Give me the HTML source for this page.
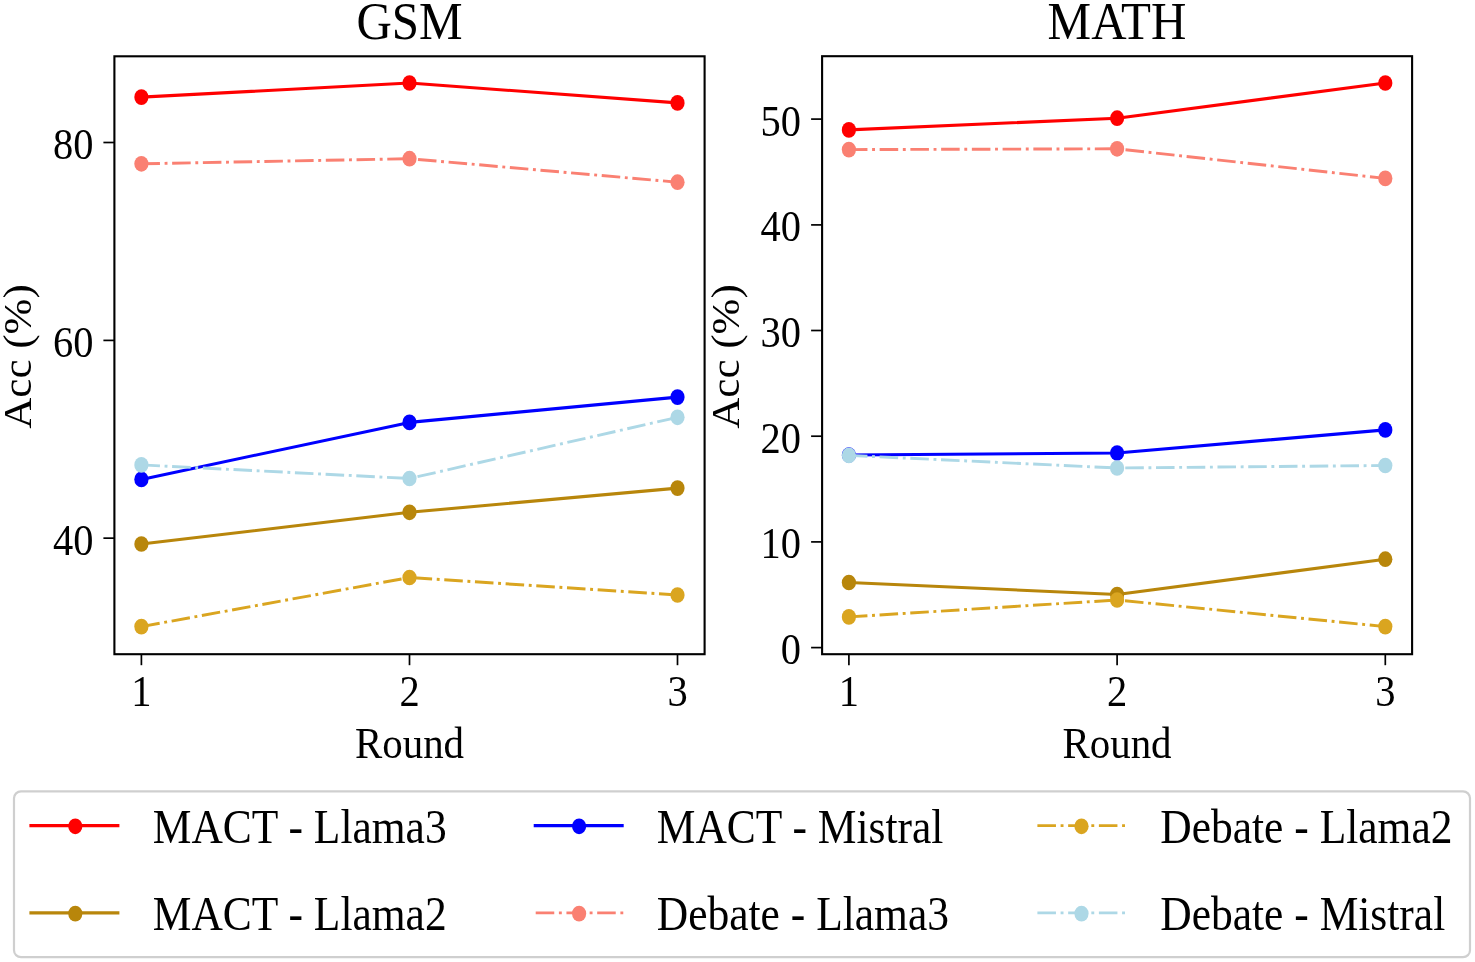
<!DOCTYPE html>
<html><head><meta charset="utf-8"><style>
html,body{margin:0;padding:0;background:#fff;width:1475px;height:962px;overflow:hidden}
svg{display:block}
#w{will-change:transform;width:1475px;height:962px}
text{font-family:"Liberation Serif",serif;fill:#000}
</style></head><body><div id="w">
<svg width="1475" height="962" viewBox="0 0 1475 962">
<rect x="114.4" y="56.3" width="590.2" height="597.9000000000001" fill="none" stroke="#000" stroke-width="2.1"/>
<line x1="141.4" y1="654.2" x2="141.4" y2="665.2" stroke="#000" stroke-width="1.7"/>
<text transform="translate(141.4,706.2) scale(1,1.11)" font-size="40.5" text-anchor="middle" >1</text>
<line x1="409.5" y1="654.2" x2="409.5" y2="665.2" stroke="#000" stroke-width="1.7"/>
<text transform="translate(409.5,706.2) scale(1,1.11)" font-size="40.5" text-anchor="middle" >2</text>
<line x1="677.5" y1="654.2" x2="677.5" y2="665.2" stroke="#000" stroke-width="1.7"/>
<text transform="translate(677.5,706.2) scale(1,1.11)" font-size="40.5" text-anchor="middle" >3</text>
<line x1="103.4" y1="538.15" x2="114.4" y2="538.15" stroke="#000" stroke-width="1.7"/>
<text transform="translate(93.4,554.65) scale(1,1.11)" font-size="40.5" text-anchor="end" >40</text>
<line x1="103.4" y1="340.4" x2="114.4" y2="340.4" stroke="#000" stroke-width="1.7"/>
<text transform="translate(93.4,356.9) scale(1,1.11)" font-size="40.5" text-anchor="end" >60</text>
<line x1="103.4" y1="142.5" x2="114.4" y2="142.5" stroke="#000" stroke-width="1.7"/>
<text transform="translate(93.4,159.0) scale(1,1.11)" font-size="40.5" text-anchor="end" >80</text>
<text transform="translate(409.5,38.5) scale(1,1.09)" font-size="49" text-anchor="middle" >GSM</text>
<text transform="translate(409.5,758) scale(1,1.09)" font-size="40.9" text-anchor="middle" >Round</text>
<rect x="822.1" y="56.2" width="589.9999999999999" height="598.0" fill="none" stroke="#000" stroke-width="2.1"/>
<line x1="848.9" y1="654.2" x2="848.9" y2="665.2" stroke="#000" stroke-width="1.7"/>
<text transform="translate(848.9,706.2) scale(1,1.11)" font-size="40.5" text-anchor="middle" >1</text>
<line x1="1117.1" y1="654.2" x2="1117.1" y2="665.2" stroke="#000" stroke-width="1.7"/>
<text transform="translate(1117.1,706.2) scale(1,1.11)" font-size="40.5" text-anchor="middle" >2</text>
<line x1="1385.3" y1="654.2" x2="1385.3" y2="665.2" stroke="#000" stroke-width="1.7"/>
<text transform="translate(1385.3,706.2) scale(1,1.11)" font-size="40.5" text-anchor="middle" >3</text>
<line x1="811.1" y1="647.6" x2="822.1" y2="647.6" stroke="#000" stroke-width="1.7"/>
<text transform="translate(801.1,664.1) scale(1,1.11)" font-size="40.5" text-anchor="end" >0</text>
<line x1="811.1" y1="541.9" x2="822.1" y2="541.9" stroke="#000" stroke-width="1.7"/>
<text transform="translate(801.1,558.4) scale(1,1.11)" font-size="40.5" text-anchor="end" >10</text>
<line x1="811.1" y1="436.2" x2="822.1" y2="436.2" stroke="#000" stroke-width="1.7"/>
<text transform="translate(801.1,452.7) scale(1,1.11)" font-size="40.5" text-anchor="end" >20</text>
<line x1="811.1" y1="330.5" x2="822.1" y2="330.5" stroke="#000" stroke-width="1.7"/>
<text transform="translate(801.1,347.0) scale(1,1.11)" font-size="40.5" text-anchor="end" >30</text>
<line x1="811.1" y1="224.9" x2="822.1" y2="224.9" stroke="#000" stroke-width="1.7"/>
<text transform="translate(801.1,241.4) scale(1,1.11)" font-size="40.5" text-anchor="end" >40</text>
<line x1="811.1" y1="119.1" x2="822.1" y2="119.1" stroke="#000" stroke-width="1.7"/>
<text transform="translate(801.1,135.6) scale(1,1.11)" font-size="40.5" text-anchor="end" >50</text>
<text transform="translate(1117,38.5) scale(1,1.09)" font-size="49" text-anchor="middle" >MATH</text>
<text transform="translate(1117,758) scale(1,1.09)" font-size="40.9" text-anchor="middle" >Round</text>
<text transform="translate(31.0,356.5) rotate(-90) scale(1.075,1)" font-size="40" text-anchor="middle">Acc (%)</text>
<text transform="translate(739.0,356.5) rotate(-90) scale(1.075,1)" font-size="40" text-anchor="middle">Acc (%)</text>
<polyline points="141.4,97.1 409.5,83 677.5,102.9" fill="none" stroke="#ff0000" stroke-width="3.1" stroke-linejoin="round" stroke-linecap="butt"/>
<ellipse cx="141.4" cy="97.1" rx="7.1" ry="7.85" fill="#ff0000"/>
<ellipse cx="409.5" cy="83" rx="7.1" ry="7.85" fill="#ff0000"/>
<ellipse cx="677.5" cy="102.9" rx="7.1" ry="7.85" fill="#ff0000"/>
<polyline points="141.4,544 409.5,512.3 677.5,488.1" fill="none" stroke="#b8860b" stroke-width="3.1" stroke-linejoin="round" stroke-linecap="butt"/>
<ellipse cx="141.4" cy="544" rx="7.1" ry="7.85" fill="#b8860b"/>
<ellipse cx="409.5" cy="512.3" rx="7.1" ry="7.85" fill="#b8860b"/>
<ellipse cx="677.5" cy="488.1" rx="7.1" ry="7.85" fill="#b8860b"/>
<polyline points="141.4,479.4 409.5,422.4 677.5,397.1" fill="none" stroke="#0000ff" stroke-width="3.1" stroke-linejoin="round" stroke-linecap="butt"/>
<ellipse cx="141.4" cy="479.4" rx="7.1" ry="7.85" fill="#0000ff"/>
<ellipse cx="409.5" cy="422.4" rx="7.1" ry="7.85" fill="#0000ff"/>
<ellipse cx="677.5" cy="397.1" rx="7.1" ry="7.85" fill="#0000ff"/>
<polyline points="141.4,163.8 409.5,158.7 677.5,182.2" fill="none" stroke="#fa8072" stroke-width="2.9" stroke-dasharray="18.56 4.64 2.90 4.64" stroke-linejoin="round" stroke-linecap="butt"/>
<ellipse cx="141.4" cy="163.8" rx="7.1" ry="7.85" fill="#fa8072"/>
<ellipse cx="409.5" cy="158.7" rx="7.1" ry="7.85" fill="#fa8072"/>
<ellipse cx="677.5" cy="182.2" rx="7.1" ry="7.85" fill="#fa8072"/>
<polyline points="141.4,626.6 409.5,577.5 677.5,595.0" fill="none" stroke="#daa520" stroke-width="2.9" stroke-dasharray="18.56 4.64 2.90 4.64" stroke-linejoin="round" stroke-linecap="butt"/>
<ellipse cx="141.4" cy="626.6" rx="7.1" ry="7.85" fill="#daa520"/>
<ellipse cx="409.5" cy="577.5" rx="7.1" ry="7.85" fill="#daa520"/>
<ellipse cx="677.5" cy="595.0" rx="7.1" ry="7.85" fill="#daa520"/>
<polyline points="141.4,464.9 409.5,478.5 677.5,417.3" fill="none" stroke="#add8e6" stroke-width="2.9" stroke-dasharray="18.56 4.64 2.90 4.64" stroke-linejoin="round" stroke-linecap="butt"/>
<ellipse cx="141.4" cy="464.9" rx="7.1" ry="7.85" fill="#add8e6"/>
<ellipse cx="409.5" cy="478.5" rx="7.1" ry="7.85" fill="#add8e6"/>
<ellipse cx="677.5" cy="417.3" rx="7.1" ry="7.85" fill="#add8e6"/>
<polyline points="848.9,129.9 1117.1,118.2 1385.3,83" fill="none" stroke="#ff0000" stroke-width="3.1" stroke-linejoin="round" stroke-linecap="butt"/>
<ellipse cx="848.9" cy="129.9" rx="7.1" ry="7.85" fill="#ff0000"/>
<ellipse cx="1117.1" cy="118.2" rx="7.1" ry="7.85" fill="#ff0000"/>
<ellipse cx="1385.3" cy="83" rx="7.1" ry="7.85" fill="#ff0000"/>
<polyline points="848.9,582.5 1117.1,594.5 1385.3,559.2" fill="none" stroke="#b8860b" stroke-width="3.1" stroke-linejoin="round" stroke-linecap="butt"/>
<ellipse cx="848.9" cy="582.5" rx="7.1" ry="7.85" fill="#b8860b"/>
<ellipse cx="1117.1" cy="594.5" rx="7.1" ry="7.85" fill="#b8860b"/>
<ellipse cx="1385.3" cy="559.2" rx="7.1" ry="7.85" fill="#b8860b"/>
<polyline points="848.9,455.0 1117.1,453.0 1385.3,429.9" fill="none" stroke="#0000ff" stroke-width="3.1" stroke-linejoin="round" stroke-linecap="butt"/>
<ellipse cx="848.9" cy="455.0" rx="7.1" ry="7.85" fill="#0000ff"/>
<ellipse cx="1117.1" cy="453.0" rx="7.1" ry="7.85" fill="#0000ff"/>
<ellipse cx="1385.3" cy="429.9" rx="7.1" ry="7.85" fill="#0000ff"/>
<polyline points="848.9,149.6 1117.1,148.8 1385.3,178.4" fill="none" stroke="#fa8072" stroke-width="2.9" stroke-dasharray="18.56 4.64 2.90 4.64" stroke-linejoin="round" stroke-linecap="butt"/>
<ellipse cx="848.9" cy="149.6" rx="7.1" ry="7.85" fill="#fa8072"/>
<ellipse cx="1117.1" cy="148.8" rx="7.1" ry="7.85" fill="#fa8072"/>
<ellipse cx="1385.3" cy="178.4" rx="7.1" ry="7.85" fill="#fa8072"/>
<polyline points="848.9,616.9 1117.1,600 1385.3,626.6" fill="none" stroke="#daa520" stroke-width="2.9" stroke-dasharray="18.56 4.64 2.90 4.64" stroke-linejoin="round" stroke-linecap="butt"/>
<ellipse cx="848.9" cy="616.9" rx="7.1" ry="7.85" fill="#daa520"/>
<ellipse cx="1117.1" cy="600" rx="7.1" ry="7.85" fill="#daa520"/>
<ellipse cx="1385.3" cy="626.6" rx="7.1" ry="7.85" fill="#daa520"/>
<polyline points="848.9,455.4 1117.1,468 1385.3,465.5" fill="none" stroke="#add8e6" stroke-width="2.9" stroke-dasharray="18.56 4.64 2.90 4.64" stroke-linejoin="round" stroke-linecap="butt"/>
<ellipse cx="848.9" cy="455.4" rx="7.1" ry="7.85" fill="#add8e6"/>
<ellipse cx="1117.1" cy="468" rx="7.1" ry="7.85" fill="#add8e6"/>
<ellipse cx="1385.3" cy="465.5" rx="7.1" ry="7.85" fill="#add8e6"/>
<rect x="14" y="791.3" width="1456" height="165.9" rx="7" ry="7" fill="#fff" stroke="#cfcfcf" stroke-width="2.2"/>
<line x1="29.4" y1="825.6" x2="119.4" y2="825.6" stroke="#ff0000" stroke-width="3.1"/>
<ellipse cx="75.3" cy="826.3000000000001" rx="7.1" ry="7.85" fill="#ff0000"/>
<text transform="translate(152.8,842.7) scale(1,1.115)" font-size="43.5" text-anchor="start" >MACT - Llama3</text>
<line x1="29.4" y1="912.9" x2="119.4" y2="912.9" stroke="#b8860b" stroke-width="3.1"/>
<ellipse cx="75.3" cy="913.6" rx="7.1" ry="7.85" fill="#b8860b"/>
<text transform="translate(152.8,930.0) scale(1,1.115)" font-size="43.5" text-anchor="start" >MACT - Llama2</text>
<line x1="533.7" y1="825.6" x2="623.7" y2="825.6" stroke="#0000ff" stroke-width="3.1"/>
<ellipse cx="579.1" cy="826.3000000000001" rx="7.1" ry="7.85" fill="#0000ff"/>
<text transform="translate(656.8,842.7) scale(1,1.115)" font-size="43.5" text-anchor="start" >MACT - Mistral</text>
<line x1="535.7" y1="912.9" x2="625.7" y2="912.9" stroke="#fa8072" stroke-width="2.9" stroke-dasharray="18.56 4.64 2.90 4.64"/>
<ellipse cx="579.1" cy="913.6" rx="7.1" ry="7.85" fill="#fa8072"/>
<text transform="translate(656.8,930.0) scale(1,1.115)" font-size="43.5" text-anchor="start" >Debate - Llama3</text>
<line x1="1037.4" y1="825.6" x2="1127.4" y2="825.6" stroke="#daa520" stroke-width="2.9" stroke-dasharray="18.56 4.64 2.90 4.64"/>
<ellipse cx="1081.5" cy="826.3000000000001" rx="7.1" ry="7.85" fill="#daa520"/>
<text transform="translate(1160.3,842.7) scale(1,1.115)" font-size="43.5" text-anchor="start" >Debate - Llama2</text>
<line x1="1037.4" y1="912.9" x2="1127.4" y2="912.9" stroke="#add8e6" stroke-width="2.9" stroke-dasharray="18.56 4.64 2.90 4.64"/>
<ellipse cx="1081.5" cy="913.6" rx="7.1" ry="7.85" fill="#add8e6"/>
<text transform="translate(1160.3,930.0) scale(1,1.115)" font-size="43.5" text-anchor="start" >Debate - Mistral</text>
</svg></div>
</body></html>
